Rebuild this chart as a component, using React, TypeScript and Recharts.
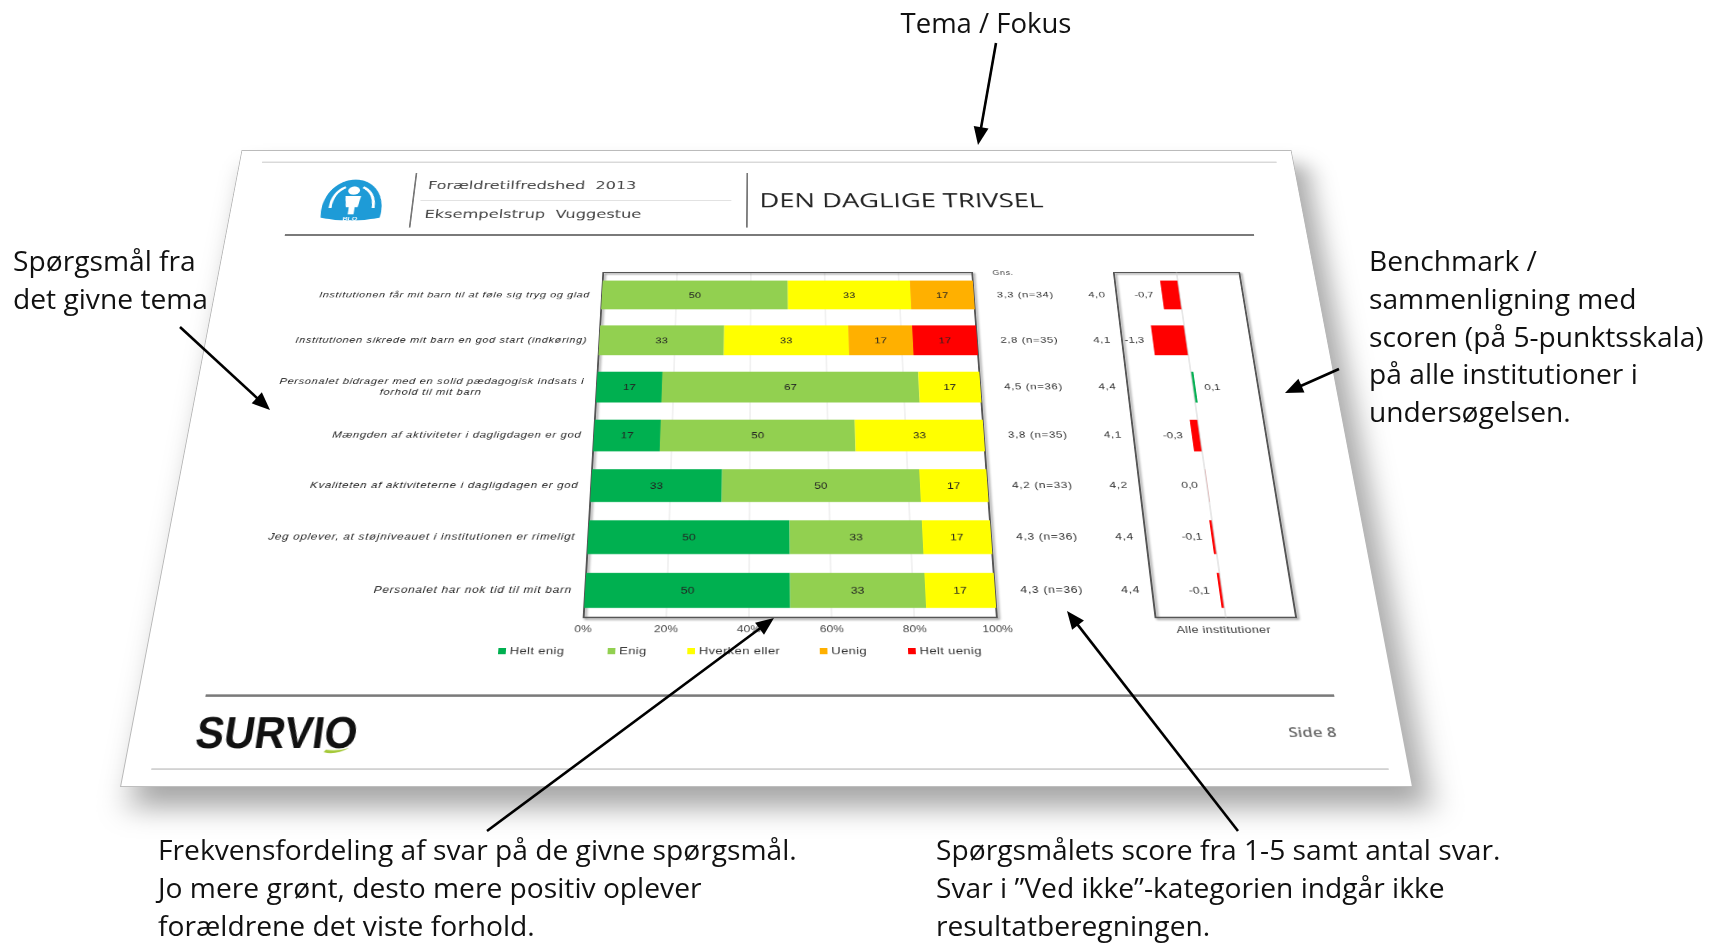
import React from 'react';
import {
  BarChart, Bar, XAxis, YAxis, CartesianGrid, LabelList, Legend,
  ReferenceArea, ReferenceLine, Cell,
} from 'recharts';

// ---------- data ----------
const questions = [
  'Institutionen får mit barn til at føle sig tryg og glad',
  'Institutionen sikrede mit barn en god start (indkøring)',
  'Personalet bidrager med en solid pædagogisk indsats i forhold til mit barn',
  'Mængden af aktiviteter i dagligdagen er god',
  'Kvaliteten af aktiviteterne i dagligdagen er god',
  'Jeg oplever, at støjniveauet i institutionen er rimeligt',
  'Personalet har nok tid til mit barn',
];
const heltEnig = [0, 0, 17, 17, 33, 50, 50];
const enig = [50, 33, 67, 50, 50, 33, 33];
const hverken = [33, 33, 17, 33, 17, 17, 17];
const uenig = [17, 17, 0, 0, 0, 0, 0];
const heltUenig = [0, 17, 0, 0, 0, 0, 0];
const scores = ['3,3', '2,8', '4,5', '3,8', '4,2', '4,3', '4,3'];
const counts = [34, 35, 36, 35, 33, 36, 36];
const benchmark = ['4,0', '4,1', '4,4', '4,1', '4,2', '4,4', '4,4'];
const diffs = [-0.7, -1.3, 0.1, -0.3, 0.0, -0.1, -0.1];
const xTicks = [0, 20, 40, 60, 80, 100];
const seriesKeys = ['heltEnig', 'enig', 'hverken', 'uenig', 'heltUenig'];
const seriesNames = ['Helt enig', 'Enig', 'Hverken eller', 'Uenig', 'Helt uenig'];
const seriesColors = ['#00B050', '#92D050', '#FFFF00', '#FFB000', '#FF0000'];

const rows = questions.map((q, i) => ({
  q,
  heltEnig: heltEnig[i],
  enig: enig[i],
  hverken: hverken[i],
  uenig: uenig[i],
  heltUenig: heltUenig[i],
  diff: diffs[i],
}));

// ---------- styles ----------
const SMALL_FONT = '"Liberation Sans", Arial, sans-serif';
const ANNO_FONT = '"Open Sans", "Noto Sans", sans-serif';

function wrap(text: string, max: number): string[] {
  const words = text.split(' ');
  const lines: string[] = [];
  let cur = '';
  for (const w of words) {
    const next = cur ? cur + ' ' + w : w;
    if (next.length > max && cur) {
      lines.push(cur);
      cur = w;
    } else cur = next;
  }
  if (cur) lines.push(cur);
  return lines;
}

const QuestionTick = (props: any) => {
  const { x, y, payload } = props;
  const lines = wrap(String(payload.value), 56);
  const right = x - 14;
  const common = {
    fontFamily: SMALL_FONT, fontSize: 12.5, fontStyle: 'italic' as const, fill: '#222',
    style: { letterSpacing: '0.8px' },
  };
  if (lines.length === 1) {
    return (
      <text x={right} y={y} dy={4} textAnchor="end" {...common}>{lines[0]}</text>
    );
  }
  const w1 = lines[0].length * 6.55;
  const cx = right - w1 / 2;
  return (
    <text textAnchor="middle" {...common}>
      {lines.map((l, k) => (
        <tspan key={k} x={cx} y={y + (k - (lines.length - 1) / 2) * 16.5 + 4}>{l}</tspan>
      ))}
    </text>
  );
};

const ScoreTick = (props: any) => {
  const { x, y, index } = props;
  return (
    <g fontFamily={SMALL_FONT} fontSize={13} fill="#333" style={{ letterSpacing: '0.7px' }}>
      {index === 0 && (
        <text x={x + 24} y={y - 36} dy={4} fontSize={10.5} fill="#444">Gns.</text>
      )}
      <text x={x + 27} y={y} dy={4}>{`${scores[index]} (n=${counts[index]})`}</text>
      <text x={x + 144} y={y} dy={4} textAnchor="middle">{benchmark[index]}</text>
    </g>
  );
};

const DiffLabel = (props: any) => {
  const vb = props.viewBox || {};
  const x = props.x ?? vb.x;
  const y = props.y ?? vb.y;
  const width = props.width ?? vb.width ?? 0;
  const height = props.height ?? vb.height ?? 0;
  const v = Number(props.value);
  const left = Math.min(x, x + width);
  const right = Math.max(x, x + width);
  const cy = y + height / 2;
  const txt = v.toFixed(1).replace('.', ',');
  const common = { fontFamily: SMALL_FONT, fontSize: 13, fill: '#333' };
  if (v > 0) {
    return <text x={right + 10} y={cy} dy={4} textAnchor="start" {...common}>{txt}</text>;
  }
  return <text x={left - 10} y={cy} dy={4} textAnchor="end" {...common}>{txt}</text>;
};

const legendItemWidths = [114, 83, 138, 92, 90];
const LegendContent = () => (
  <div style={{ display: 'flex', whiteSpace: 'nowrap', fontFamily: SMALL_FONT, fontSize: 13.5, color: '#333', letterSpacing: '0.4px' }}>
    {seriesNames.map((n, i) => (
      <div key={n} style={{ display: 'flex', alignItems: 'center', width: legendItemWidths[i] }}>
        <span style={{ display: 'inline-block', width: 8, height: 8, background: seriesColors[i], marginRight: 4 }} />
        <span>{n}</span>
      </div>
    ))}
  </div>
);

const MainChart = () => (
  <BarChart
    layout="vertical"
    width={1080}
    height={600}
    data={rows}
    margin={{ top: 56, right: 0, bottom: 15, left: 0 }}
    barCategoryGap={25}
  >
    <CartesianGrid horizontal={false} stroke="#e4e4e4" />
    <XAxis
      type="number"
      domain={[0, 100]}
      allowDataOverflow
      ticks={xTicks}
      tickFormatter={(v) => `${v}%`}
      axisLine={false}
      tickLine={false}
      tickMargin={4}
      height={30}
      tick={{ fontFamily: SMALL_FONT, fontSize: 12.5, fill: '#444' }}
    />
    <YAxis
      type="category"
      dataKey="q"
      width={453}
      axisLine={false}
      tickLine={false}
      tickSize={0}
      tickMargin={0}
      interval={0}
      tick={<QuestionTick />}
    />
    <YAxis
      yAxisId="right"
      orientation="right"
      type="category"
      dataKey="q"
      width={192}
      axisLine={false}
      tickLine={false}
      tickSize={0}
      tickMargin={0}
      interval={0}
      tick={<ScoreTick />}
    />
    {seriesKeys.map((k, i) => (
      <Bar key={k} dataKey={k} name={seriesNames[i]} stackId="a" fill={seriesColors[i]} barSize={46} isAnimationActive={false}>
        <LabelList
          dataKey={k}
          position="center"
          formatter={(v: any) => (Number(v) > 0 ? v : '')}
          style={{ fontFamily: SMALL_FONT, fontSize: 13, fill: '#222' }}
        />
      </Bar>
    ))}
    <ReferenceArea
      x1={0}
      x2={100}
      fill="none"
      fillOpacity={0}
      stroke="#555"
      strokeWidth={2}
      ifOverflow="visible"
      style={{ filter: 'drop-shadow(2px 2px 1.5px rgba(0,0,0,0.45))' }}
    />
    <Legend
      layout="horizontal"
      verticalAlign="middle"
      align="center"
      wrapperStyle={{ left: 366, top: 590, width: 'auto', height: 'auto' }}
      content={<LegendContent />}
    />
  </BarChart>
);

const DiffChart = () => (
  <BarChart
    layout="vertical"
    width={250}
    height={600}
    data={rows}
    margin={{ top: 56, right: 52, bottom: 15, left: 50 }}
    barCategoryGap={25}
  >
    <XAxis
      type="number"
      domain={[-2.5, 2.5]}
      allowDataOverflow
      tick={false}
      axisLine={false}
      tickLine={false}
      height={30}
      label={{ value: 'Alle institutioner', position: 'center', fontFamily: SMALL_FONT, fontSize: 13, fill: '#333', dx: -4, style: { letterSpacing: '0.4px' } }}
    />
    <YAxis type="category" dataKey="q" hide />
    <ReferenceLine x={0} stroke="#d0d0d0" strokeWidth={1} />
    <Bar dataKey="diff" barSize={46} minPointSize={1} isAnimationActive={false}>
      {rows.map((r, i) => (
        <Cell key={i} fill={r.diff < 0 ? '#FF0000' : r.diff > 0 ? '#00B050' : '#f2b0b0'} />
      ))}
      <LabelList dataKey="diff" content={<DiffLabel />} />
    </Bar>
    <ReferenceArea
      x1={-2.5}
      x2={2.5}
      fill="none"
      fillOpacity={0}
      stroke="#555"
      strokeWidth={2}
      ifOverflow="visible"
      style={{ filter: 'drop-shadow(2px 2px 1.5px rgba(0,0,0,0.45))' }}
    />
  </BarChart>
);

// ---------- annotations ----------
const arrows: { from: [number, number]; to: [number, number] }[] = [
  { from: [996, 43], to: [978, 145] },
  { from: [180, 327], to: [270, 410] },
  { from: [1339, 369], to: [1285, 393] },
  { from: [487, 831], to: [774, 618] },
  { from: [1238, 831], to: [1067, 611] },
];

const Arrow = ({ from, to }: { from: [number, number]; to: [number, number] }) => {
  const dx = to[0] - from[0];
  const dy = to[1] - from[1];
  const len = Math.hypot(dx, dy);
  const ux = dx / len, uy = dy / len;
  const hl = 18, hw = 7.5;
  const bx = to[0] - ux * hl, by = to[1] - uy * hl;
  const px = -uy, py = ux;
  return (
    <g>
      <line x1={from[0]} y1={from[1]} x2={bx + ux * 2} y2={by + uy * 2} stroke="#000" strokeWidth={2.6} />
      <polygon
        points={`${to[0]},${to[1]} ${bx + px * hw},${by + py * hw} ${bx - px * hw},${by - py * hw}`}
        fill="#000"
      />
    </g>
  );
};

const annoBlocks: { left: number; center: number; lines: string[]; align?: 'center' }[] = [
  { left: 986, center: 24, lines: ['Tema / Fokus'], align: 'center' },
  { left: 13, center: 262, lines: ['Spørgsmål fra', 'det givne tema'] },
  { left: 1369, center: 262, lines: ['Benchmark /', 'sammenligning med', 'scoren (på 5-punktsskala)', 'på alle institutioner i', 'undersøgelsen.'] },
  { left: 158, center: 851, lines: ['Frekvensfordeling af svar på de givne spørgsmål.', 'Jo mere grønt, desto mere positiv oplever', 'forældrene det viste forhold.'] },
  { left: 936, center: 851, lines: ['Spørgsmålets score fra 1-5 samt antal svar.', 'Svar i ”Ved ikke”-kategorien indgår ikke', 'resultatberegningen.'] },
];
const ANNO_SIZE = 28.2;
const ANNO_LH = 37.7;
const CAP_CENTER = 19.7;

const Logo = () => (
  <svg width={84} height={78} viewBox="0 0 68 66" style={{ position: 'absolute', left: 103, top: 47 }}>
    <path d="M4 58 C 0 28, 14 3, 34 3 C 54 3, 68 28, 64 58 Q 34 66 4 58 Z" fill="#1E9BD7" />
    <circle cx={34} cy={19} r={6} fill="#fff" />
    <path d="M26 27 L42 27 L40 43 L37 43 L37 53 L31 53 L31 43 L28 43 Z" fill="#fff" />
    <path d="M12 44 Q 12 22 25 14" stroke="#fff" strokeWidth={3} fill="none" />
    <path d="M56 44 Q 56 22 43 14" stroke="#fff" strokeWidth={3} fill="none" />
    <text x={34} y={62} fontSize={7} fill="#fff" textAnchor="middle" fontWeight="bold" fontFamily={SMALL_FONT}>BLO</text>
  </svg>
);

const abs = (s: React.CSSProperties): React.CSSProperties => ({ position: 'absolute', ...s });

export default function App() {
  return (
    <div style={{ position: 'fixed', left: 0, top: 0, width: 1710, height: 943, background: '#fff', overflow: 'hidden' }}>
      {/* the document page, tilted in perspective */}
      <div
        style={{
          position: 'absolute',
          left: 120,
          top: 787 - 914,
          width: 1293,
          height: 914,
          boxSizing: 'border-box',
          background: '#fff',
          border: '1px solid #b8b8b8',
          boxShadow: '14px 24px 30px rgba(0,0,0,0.35)',
          transformOrigin: '646.5px 914px',
          transform: 'perspective(2027px) rotateX(30.9deg)',
        }}
      >
        <div style={abs({ left: 27, top: 19, width: 1244, height: 2, background: '#d2d2d2' })} />
        <Logo />
        <div style={abs({ left: 217, top: 39, width: 2, height: 93, background: '#777' })} />
        <div style={abs({ left: 234, top: 48, fontFamily: '"DejaVu Sans", sans-serif', fontSize: 19.5, color: '#444', whiteSpace: 'pre', lineHeight: '26px' })}>
          {'Forældretilfredshed  2013'}
        </div>
        <div style={abs({ left: 227, top: 86, width: 376, height: 1, background: '#dcdcdc' })} />
        <div style={abs({ left: 234, top: 97, fontFamily: '"DejaVu Sans", sans-serif', fontSize: 19.5, color: '#444', whiteSpace: 'pre', lineHeight: '26px' })}>
          {'Eksempelstrup  Vuggestue'}
        </div>
        <div style={abs({ left: 621, top: 39, width: 2, height: 93, background: '#777' })} />
        <div style={abs({ left: 637, top: 66, fontFamily: ANNO_FONT, fontSize: 33, color: '#222', whiteSpace: 'pre', lineHeight: '40px' })}>
          DEN DAGLIGE TRIVSEL
        </div>
        <div style={abs({ left: 70, top: 143, width: 1158, height: 3, background: '#7a7a7a' })} />

        <div style={abs({ left: 0, top: 150, width: 1080, height: 600 })}>
          <MainChart />
        </div>
        <div style={abs({ left: 1005, top: 150, width: 250, height: 600 })}>
          <DiffChart />
        </div>

        <div style={abs({ left: 69, top: 802, width: 1160, height: 3, background: '#7a7a7a' })} />
        <svg width={260} height={76} style={{ position: 'absolute', left: 56, top: 812, overflow: 'visible' }}>
          <text x={10} y={55} fontFamily={SMALL_FONT} fontWeight={900} fontSize={54} fill="#111" textLength={164} lengthAdjust="spacingAndGlyphs">SURVIO</text>
          <path d="M142 60 Q 154 64 167 55 Q 156 59 144 57 Z" fill="#A5C93A" />
        </svg>
        <div style={abs({ left: 1176, top: 836, fontFamily: ANNO_FONT, fontSize: 17, fontWeight: 600, color: '#6a6a6a', lineHeight: '24px' })}>
          Side 8
        </div>
        <div style={abs({ left: 27, top: 891, width: 1244, height: 2, background: '#d2d2d2' })} />
      </div>

      {/* arrows */}
      <svg width={1710} height={943} style={{ position: 'absolute', left: 0, top: 0 }}>
        {arrows.map((a, i) => <Arrow key={i} from={a.from} to={a.to} />)}
      </svg>

      {/* annotation texts */}
      {annoBlocks.map((b, i) => (
        <div
          key={i}
          style={abs({
            left: b.align === 'center' ? b.left - 200 : b.left,
            width: b.align === 'center' ? 400 : undefined,
            textAlign: b.align === 'center' ? 'center' : 'left',
            top: b.center - CAP_CENTER,
            fontFamily: ANNO_FONT,
            fontSize: b.align === 'center' ? 27.5 : ANNO_SIZE,
            lineHeight: `${ANNO_LH}px`,
            color: '#111',
            whiteSpace: 'nowrap',
          })}
        >
          {b.lines.map((l, k) => <div key={k}>{l}</div>)}
        </div>
      ))}
    </div>
  );
}
